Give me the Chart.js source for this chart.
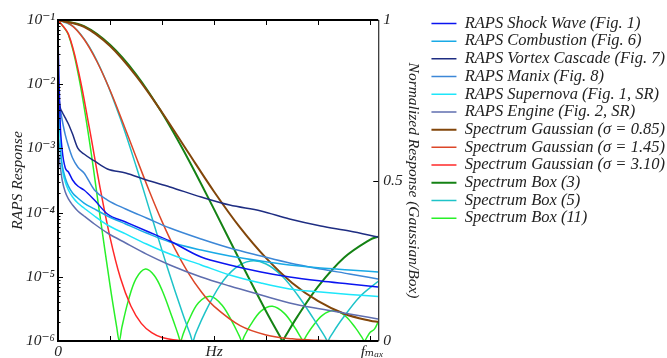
<!DOCTYPE html>
<html>
<head>
<meta charset="utf-8">
<script src="https://cdn.jsdelivr.net/npm/chart.js@4.4.1/dist/chart.umd.min.js"></script>
<style>
  html, body { margin: 0; padding: 0; background: #fff; }
  #wrap { width: 667px; height: 358px; position: relative; }
</style>
</head>
<body>
<div id="wrap"><canvas id="chart"></canvas></div>
<script>
// --- DATA (x in tick units: 0 .. f_max at 6) ---
const rapsU = [0, 0.04, 0.08, 0.14, 0.2, 0.28, 0.38, 0.5, 0.7, 0.95, 1.3, 1.7, 2.15, 2.75, 3.3, 3.9, 4.45, 5.05, 5.6, 6.15];
const shockWave = [5.43e-2, 2.77e-3, 9.44e-4, 4.95e-4, 4.29e-4, 3.22e-4, 2.59e-4, 2.25e-4, 1.57e-4, 9.51e-5, 7.14e-5, 5.16e-5, 3.61e-5, 2.03e-5, 1.53e-5, 1.19e-5, 9.93e-6, 8.61e-6, 7.73e-6, 6.93e-6];
const combustion = [1.51e-3, 9.44e-4, 5.51e-4, 3.46e-4, 2.59e-4, 2.02e-4, 1.69e-4, 1.41e-4, 1.14e-4, 8.85e-5, 6.64e-5, 4.81e-5, 3.48e-5, 2.61e-5, 2.11e-5, 1.76e-5, 1.53e-5, 1.37e-5, 1.28e-5, 1.19e-5];
const vortexCascade = [8.73e-3, 4.42e-3, 3.69e-3, 2.98e-3, 2.40e-3, 1.67e-3, 1.01e-3, 8.18e-4, 6.37e-4, 4.78e-4, 4.14e-4, 3.22e-4, 2.51e-4, 1.75e-4, 1.31e-4, 1.06e-4, 7.94e-5, 6.18e-5, 5.16e-5, 4.17e-5];
const manix = [6.10e-3, 4.26e-3, 2.77e-3, 1.62e-3, 1.09e-3, 7.08e-4, 5.13e-4, 4.14e-4, 2.25e-4, 1.57e-4, 1.14e-4, 8.24e-5, 5.75e-5, 3.88e-5, 2.81e-5, 2.11e-5, 1.64e-5, 1.32e-5, 1.11e-5, 9.25e-6];
const supernova = [1.16e-2, 1.35e-3, 4.95e-4, 3.00e-4, 2.25e-4, 1.75e-4, 1.41e-4, 1.18e-4, 8.85e-5, 6.41e-5, 4.65e-5, 3.24e-5, 2.26e-5, 1.53e-5, 1.07e-5, 8.00e-6, 6.46e-6, 5.79e-6, 5.30e-6, 4.93e-6];
const engine = [9.44e-4, 5.51e-4, 3.22e-4, 2.09e-4, 1.63e-4, 1.31e-4, 1.06e-4, 8.85e-5, 6.64e-5, 4.81e-5, 3.36e-5, 2.26e-5, 1.53e-5, 9.93e-6, 7.19e-6, 5.21e-6, 3.91e-6, 3.15e-6, 2.64e-6, 2.20e-6];

const gauss085U = [0, 0.5, 1, 1.5, 2, 2.5, 3, 3.5, 4, 4.5, 5, 5.5, 6, 6.154];
const gauss085 = [1, 0.979, 0.919, 0.826, 0.712, 0.588, 0.465, 0.353, 0.258, 0.181, 0.124, 0.085, 0.063, 0.060];
const gauss145U = [0, 0.25, 0.5, 0.75, 1, 1.25, 1.5, 1.75, 2, 2.25, 2.5, 2.75, 3, 3.5, 4, 4.5, 5, 5.5, 6.154];
const gauss145 = [1, 0.985, 0.940, 0.870, 0.781, 0.679, 0.573, 0.469, 0.372, 0.286, 0.213, 0.154, 0.108, 0.048, 0.019, 0.0067, 0.0021, 0.0006, 0.0001];
const gauss310U = [0, 0.2, 0.4, 0.6, 0.8, 1.0, 1.2, 1.4, 1.6, 1.8, 2.0, 2.3, 2.6, 3.0, 3.5, 6.154];
const gauss310 = [1, 0.956, 0.835, 0.666, 0.485, 0.323, 0.196, 0.109, 0.055, 0.026, 0.011, 0.0025, 0.0005, 0, 0, 0];
const box3U = [0, 0.5, 1, 1.5, 2, 2.5, 3, 3.5, 4, 4.267, 4.317, 4.367, 4.6, 5, 5.5, 6, 6.154];
const box3 = [1, 0.981, 0.923, 0.831, 0.710, 0.567, 0.410, 0.249, 0.092, 0.014, 0, 0.014, 0.076, 0.170, 0.260, 0.316, 0.325];
const box5U = [0, 0.3, 0.6, 0.9, 1.2, 1.5, 1.8, 2.1, 2.4, 2.54, 2.59, 2.64, 2.8, 3.1, 3.4, 3.7, 4.0, 4.3, 4.6, 4.9, 5.131, 5.181, 5.231, 5.45, 5.8, 6.154];
const box5 = [1, 0.979, 0.917, 0.819, 0.692, 0.545, 0.387, 0.230, 0.083, 0.021, 0, 0.021, 0.080, 0.170, 0.226, 0.249, 0.240, 0.203, 0.144, 0.072, 0.013, 0, 0.013, 0.066, 0.138, 0.186];
const box11U = [0, 0.2, 0.4, 0.6, 0.8, 1.0, 1.128, 1.178, 1.228, 1.35, 1.5, 1.68, 1.85, 2.0, 2.2, 2.305, 2.355, 2.405, 2.5, 2.7, 2.94, 3.15, 3.35, 3.483, 3.533, 3.583, 3.7, 3.9, 4.12, 4.35, 4.55, 4.66, 4.71, 4.76, 4.88, 5.08, 5.3, 5.52, 5.72, 5.838, 5.888, 5.938, 6.0, 6.08, 6.154];
const box11 = [1, 0.954, 0.822, 0.627, 0.398, 0.173, 0.043, 0, 0.043, 0.125, 0.194, 0.224, 0.204, 0.158, 0.071, 0.022, 0, 0.022, 0.060, 0.119, 0.139, 0.112, 0.059, 0.016, 0, 0.016, 0.050, 0.093, 0.108, 0.086, 0.042, 0.013, 0, 0.013, 0.043, 0.080, 0.095, 0.078, 0.040, 0.012, 0, 0.012, 0.027, 0.037, 0.060];

// --- AXES ---
const xMax = 6.154;
const xLabelTicks = [0, 3, 6];
const xTickLabels = ['0', 'Hz', ' f\u2098\u2090\u2093'];
const xMarkTicks = [1, 2, 3, 4, 5, 6];
const yDecades = [1e-6, 1e-5, 1e-4, 1e-3, 1e-2, 1e-1];
const yTickLabels = ['10\u207B\u2076', '10\u207B\u2075', '10\u207B\u2074', '10\u207B\u00B3', '10\u207B\u00B2', '10\u207B\u00B9'];
const y1Ticks = [0, 0.5, 1];
const y1TickLabels = ['0', '0.5', '1'];

const FONT = "'Liberation Serif', 'DejaVu Serif', serif";
const TEXT = '#222';

function pts(xs, ys) {
    return xs.map((x, i) => ({ x: x, y: ys[i] }));
}

function raps(label, ys, color) {
    return { label, data: pts(rapsU, ys), yAxisID: 'y', borderColor: color, backgroundColor: color,
        borderWidth: 1.5, pointRadius: 0, cubicInterpolationMode: 'monotone' };
}

function norm(label, xs, ys, color, width) {
    return { label, data: pts(xs, ys), yAxisID: 'y1', borderColor: color, backgroundColor: color,
        borderWidth: width || 1.5, pointRadius: 0, tension: 0.35 };
}

const datasets = [
    raps('RAPS Shock Wave (Fig. 1)', shockWave, 'rgb(10,20,240)'),
    raps('RAPS Combustion (Fig. 6)', combustion, 'rgb(25,170,230)'),
    raps('RAPS Vortex Cascade (Fig. 7)', vortexCascade, 'rgb(30,45,130)'),
    raps('RAPS Manix (Fig. 8)', manix, 'rgb(60,135,215)'),
    raps('RAPS Supernova (Fig. 1, SR)', supernova, 'rgb(30,230,250)'),
    raps('RAPS Engine (Fig. 2, SR)', engine, 'rgb(95,110,175)'),
    norm('Spectrum Gaussian (\u03C3 = 0.85)', gauss085U, gauss085, 'rgb(130,70,10)', 2),
    norm('Spectrum Gaussian (\u03C3 = 1.45)', gauss145U, gauss145, 'rgb(220,70,40)'),
    norm('Spectrum Gaussian (\u03C3 = 3.10)', gauss310U, gauss310, 'rgb(255,40,40)'),
    norm('Spectrum Box (3)', box3U, box3, 'rgb(20,130,20)', 2),
    norm('Spectrum Box (5)', box5U, box5, 'rgb(30,195,200)'),
    norm('Spectrum Box (11)', box11U, box11, 'rgb(40,240,40)')
];

// frame, inner ticks and legend placement
const framePlugin = {
    id: 'frame',
    beforeDraw(chart) {
        const a = chart.chartArea;
        chart.legend.top = a.top - 6;
        chart.legend.left = a.right + 52;
    },
    afterDatasetsDraw(chart) {
        const { ctx, chartArea: a, scales } = chart;
        ctx.save();
        ctx.strokeStyle = '#000';
        ctx.lineWidth = 1;
        ctx.beginPath();
        xMarkTicks.forEach(v => {
            const px = Math.round(scales.x.getPixelForValue(v)) + 0.5;
            ctx.moveTo(px, a.bottom); ctx.lineTo(px, a.bottom - 5);
            ctx.moveTo(px, a.top); ctx.lineTo(px, a.top + 5);
        });
        yDecades.forEach(d => {
            for (let m = 1; m < 10; m++) {
                const v = d * m;
                if (v > 0.1) break;
                const py = Math.round(scales.y.getPixelForValue(v)) + 0.5;
                ctx.moveTo(a.left, py); ctx.lineTo(a.left + (m === 1 ? 5 : 2.5), py);
            }
        });
        y1Ticks.forEach(v => {
            const py = Math.round(scales.y1.getPixelForValue(v)) + 0.5;
            ctx.moveTo(a.right, py); ctx.lineTo(a.right - 5, py);
        });
        ctx.stroke();
        ctx.lineWidth = 2;
        ctx.beginPath();
        ctx.moveTo(a.right, a.top); ctx.lineTo(a.left, a.top);
        ctx.lineTo(a.left, a.bottom); ctx.lineTo(a.right, a.bottom);
        ctx.stroke();
        ctx.lineWidth = 1;
        ctx.beginPath();
        ctx.moveTo(a.right + 0.5, a.top); ctx.lineTo(a.right + 0.5, a.bottom);
        ctx.stroke();
        ctx.restore();
    }
};

new Chart(document.getElementById('chart'), {
    type: 'line',
    data: { datasets },
    options: {
        responsive: true,
        maintainAspectRatio: false,
        animation: false,
        layout: { padding: { top: 20, left: 0, right: 0, bottom: 0 } },
        plugins: {
            tooltip: { enabled: false },
            legend: {
                position: 'right',
                align: 'start',
                maxWidth: 320,
                labels: {
                    usePointStyle: true,
                    pointStyle: 'line',
                    pointStyleWidth: 25,
                    padding: 1.2,
                    color: TEXT,
                    font: { family: FONT, size: 16.5, style: 'italic', lineHeight: 1 }
                }
            }
        },
        scales: {
            x: {
                type: 'linear', min: 0, max: xMax,
                grid: { display: false, drawTicks: false },
                border: { display: false },
                afterBuildTicks: s => { s.ticks = xLabelTicks.map(v => ({ value: v })); },
                afterFit: s => { s.height = 17; },
                ticks: {
                    padding: 2, maxRotation: 0, autoSkip: false, color: TEXT,
                    font: { family: FONT, size: 15.5, style: 'italic' },
                    callback: (v, i) => xTickLabels[i]
                }
            },
            y: {
                type: 'logarithmic', position: 'left', min: 1e-6, max: 1e-1,
                grid: { display: false, drawTicks: false },
                border: { display: false },
                afterBuildTicks: s => { s.ticks = yDecades.map(v => ({ value: v })); },
                afterFit: s => { s.width = 58; },
                title: { display: true, text: 'RAPS Response', color: TEXT, padding: { top: 9, bottom: 0 },
                    font: { family: FONT, size: 15.5, style: 'italic' } },
                ticks: {
                    padding: 3, autoSkip: false, color: TEXT,
                    font: { family: FONT, size: 15.5, style: 'italic' },
                    callback: (v, i) => yTickLabels[i]
                }
            },
            y1: {
                type: 'linear', position: 'right', min: 0, max: 1,
                grid: { display: false, drawTicks: false },
                border: { display: false },
                afterBuildTicks: s => { s.ticks = y1Ticks.map(v => ({ value: v })); },
                afterFit: s => { s.width = 44; },
                title: { display: true, text: 'Normalized Response (Gaussian/Box)', color: TEXT, padding: { top: 1, bottom: 0 },
                    font: { family: FONT, size: 15.5, style: 'italic', lineHeight: 1 } },
                ticks: {
                    padding: 5, autoSkip: false, color: TEXT,
                    font: { family: FONT, size: 15.5, style: 'italic' },
                    callback: (v, i) => y1TickLabels[i]
                }
            }
        }
    },
    plugins: [framePlugin]
});
</script>
</body>
</html>
